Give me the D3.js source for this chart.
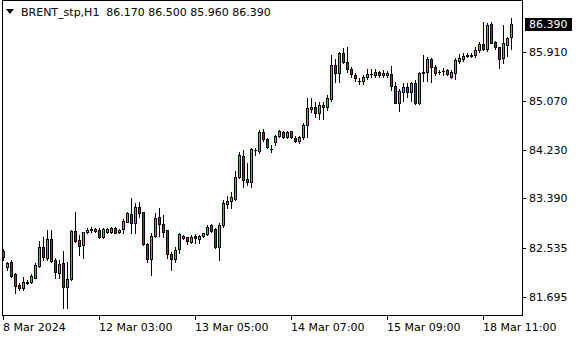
<!DOCTYPE html>
<html lang="en">
<head>
<meta charset="utf-8">
<title>BRENT_stp,H1</title>
<script src="https://cdn.jsdelivr.net/npm/d3@7"></script>
<style>
  body { margin: 0; background: #fff; }
  svg { display: block; font-family: "DejaVu Sans", sans-serif; font-size: 11px; }
</style>
</head>
<body>
<div id="chart"></div>
<script>
// H1 bars, oldest first
var symbol = "BRENT_stp,H1";
var opens = [82.49,82.21,82.30,82.09,81.90,81.85,81.94,81.95,82.02,82.23,
  82.56,82.37,82.70,82.33,82.11,82.28,81.87,82.01,82.83,82.68,
  82.59,82.81,82.85,82.83,82.85,82.73,82.81,82.81,82.89,82.81,
  82.87,82.99,83.12,82.97,83.24,83.16,82.61,82.35,82.75,83.07,
  82.95,82.85,82.44,82.35,82.52,82.71,82.73,82.64,82.75,82.70,
  82.75,82.78,82.94,82.87,82.56,82.94,83.30,83.35,83.38,83.76,
  84.12,83.73,83.67,84.23,84.21,84.53,84.41,84.24,84.36,84.47,
  84.53,84.45,84.55,84.43,84.38,84.45,84.66,84.93,84.96,84.86,
  84.96,84.96,85.10,85.69,85.55,85.89,85.74,85.62,85.51,85.41,
  85.41,85.48,85.53,85.51,85.57,85.51,85.51,85.53,85.33,85.03,
  85.22,85.31,85.22,85.38,85.03,85.55,85.57,85.79,85.65,85.57,
  85.58,85.60,85.48,85.55,85.76,85.79,85.84,85.84,85.86,85.94,
  86.05,85.96,86.39,86.08,86.00,85.81,86.03,86.17];
var highs = [82.52,82.30,82.33,82.11,81.94,82.04,81.99,82.09,82.28,82.66,
  82.73,82.85,82.85,82.37,82.33,82.49,82.30,82.85,83.16,82.76,
  82.81,82.89,82.90,82.88,82.89,82.89,82.89,82.90,82.90,82.87,
  83.04,83.16,83.40,83.31,83.33,83.16,82.63,82.80,83.14,83.23,
  83.11,82.85,82.47,82.56,82.80,82.76,82.73,82.76,82.78,82.76,
  82.80,82.94,82.95,82.89,82.97,83.37,83.43,83.50,83.86,84.19,
  84.23,84.00,84.26,84.26,84.57,84.59,84.43,84.31,84.48,84.57,
  84.55,84.55,84.55,84.47,84.47,84.69,85.12,85.12,85.05,85.05,
  85.05,85.17,85.86,85.79,85.91,85.98,86.00,85.65,85.55,85.46,
  85.51,85.62,85.62,85.62,85.58,85.60,85.58,85.67,85.39,85.27,
  85.38,85.38,85.39,85.43,85.57,85.86,85.82,85.81,85.69,85.60,
  85.64,85.62,85.60,85.81,85.88,85.89,85.89,85.89,86.00,86.08,
  86.43,86.41,86.43,86.10,86.00,86.38,86.17,86.50];
var lows = [82.33,82.16,82.04,81.77,81.82,81.82,81.92,81.94,82.02,82.21,
  82.33,82.33,82.30,82.02,82.02,81.51,81.51,81.99,82.64,82.42,
  82.37,82.80,82.81,82.81,82.71,82.71,82.80,82.80,82.80,82.80,
  82.80,82.99,82.80,82.80,83.07,82.59,82.30,82.08,82.73,82.75,
  82.73,82.37,82.16,82.30,82.45,82.70,82.61,82.63,82.63,82.63,
  82.73,82.76,82.81,82.54,82.33,82.90,83.23,83.23,83.37,83.74,
  83.59,83.62,83.59,84.14,84.17,84.38,84.26,84.19,84.31,84.45,
  84.43,84.43,84.43,84.36,84.35,84.41,84.45,84.88,84.79,84.76,
  84.76,84.91,85.07,85.39,85.39,85.72,85.57,85.48,85.41,85.36,
  85.36,85.45,85.48,85.48,85.48,85.48,85.48,85.26,85.03,84.90,
  85.07,85.14,85.07,85.02,85.02,85.41,85.41,85.39,85.51,85.53,
  85.51,85.51,85.46,85.45,85.72,85.76,85.82,85.82,85.82,85.91,
  85.94,85.93,86.07,85.96,85.64,85.72,85.84,85.96];
var closes = [82.38,82.28,82.06,81.89,81.85,81.95,81.95,82.06,82.25,82.56,
  82.38,82.70,82.32,82.13,82.26,81.87,82.01,82.83,82.66,82.57,
  82.81,82.85,82.87,82.87,82.73,82.87,82.87,82.89,82.80,82.85,
  83.00,83.14,82.97,83.24,83.14,82.61,82.35,82.75,83.06,82.95,
  82.81,82.44,82.35,82.50,82.78,82.75,82.66,82.73,82.71,82.75,
  82.80,82.90,82.83,82.56,82.94,83.31,83.35,83.42,83.76,84.14,
  83.71,83.67,84.24,84.23,84.53,84.41,84.28,84.24,84.47,84.55,
  84.45,84.53,84.45,84.38,84.45,84.66,84.95,84.96,84.86,85.00,
  85.00,85.12,85.69,85.55,85.89,85.74,85.62,85.53,85.46,85.41,
  85.48,85.53,85.53,85.57,85.51,85.55,85.55,85.33,85.03,85.24,
  85.31,85.22,85.38,85.03,85.55,85.57,85.79,85.65,85.55,85.57,
  85.58,85.53,85.57,85.77,85.81,85.84,85.86,85.86,85.94,86.05,
  85.96,86.38,86.07,86.00,85.79,86.07,86.15,86.39];
var headerValues = ["86.170", "86.500", "85.960", "86.390"];
var lastPrice = 86.390;

var xTickIdx = [0, 24, 48, 72, 96, 120];
var xTickLabels = ["8 Mar 2024", "12 Mar 03:00", "13 Mar 05:00", "14 Mar 07:00", "15 Mar 09:00", "18 Mar 11:00"];
var yTicks = [85.910, 85.070, 84.230, 83.390, 82.535, 81.695];

var width = 580, height = 340;
var frameRight = 522, frameBottom = 315;

var bars = opens.map(function(o, i) {
  return { i: i, o: o, h: highs[i], l: lows[i], c: closes[i] };
});

var svg = d3.select("#chart").append("svg")
  .attr("width", width)
  .attr("height", height);

var x = d3.scaleBand()
  .domain(d3.range(bars.length))
  .range([2, 2 + 4 * bars.length]);

var y = d3.scaleLinear()
  .domain([81.386, 86.770])
  .range([frameBottom, 2]);

function py(v) { return Math.round(y(v)) + 0.5; }

// frame
svg.append("rect")
  .attr("x", 2.5).attr("y", 0.5)
  .attr("width", frameRight - 2)
  .attr("height", frameBottom)
  .attr("fill", "none")
  .attr("stroke", "#000");

var g = svg.append("g");

// wicks
g.selectAll("line.wick")
  .data(bars)
  .enter().append("line")
  .attr("class", "wick")
  .attr("x1", function(d) { return x(d.i) + 1.5; })
  .attr("x2", function(d) { return x(d.i) + 1.5; })
  .attr("y1", function(d) { return py(Math.max(d.h, d.o, d.c)) - 0.5; })
  .attr("y2", function(d) { return py(Math.min(d.l, d.o, d.c)) + 0.5; })
  .attr("stroke", "#000");

// bodies
g.selectAll("rect.body")
  .data(bars.filter(function(d) { return py(d.o) !== py(d.c); }))
  .enter().append("rect")
  .attr("class", "body")
  .attr("x", function(d) { return x(d.i) + 0.5; })
  .attr("y", function(d) { return py(Math.max(d.o, d.c)); })
  .attr("width", 2)
  .attr("height", function(d) { return py(Math.min(d.o, d.c)) - py(Math.max(d.o, d.c)); })
  .attr("fill", function(d) { return d.c >= d.o ? "#00f000" : "#e80000"; })
  .attr("stroke", "#000");

// dojis
g.selectAll("line.doji")
  .data(bars.filter(function(d) { return py(d.o) === py(d.c); }))
  .enter().append("line")
  .attr("class", "doji")
  .attr("x1", function(d) { return x(d.i); })
  .attr("x2", function(d) { return x(d.i) + 3; })
  .attr("y1", function(d) { return py(d.c); })
  .attr("y2", function(d) { return py(d.c); })
  .attr("stroke", "#000");

// price scale
var yAxis = svg.append("g");
yAxis.selectAll("line")
  .data(yTicks)
  .enter().append("line")
  .attr("x1", frameRight).attr("x2", frameRight + 4)
  .attr("y1", py).attr("y2", py)
  .attr("stroke", "#000");
yAxis.selectAll("text")
  .data(yTicks)
  .enter().append("text")
  .attr("x", 529)
  .attr("y", function(d) { return y(d); })
  .attr("dy", "0.36em")
  .attr("fill", "#000")
  .text(function(d) { return d.toFixed(3); });

// last price label
svg.append("rect")
  .attr("x", 525).attr("y", Math.round(y(lastPrice)) - 6)
  .attr("width", 47).attr("height", 13)
  .attr("fill", "#000");
svg.append("text")
  .attr("x", 529)
  .attr("y", y(lastPrice))
  .attr("dy", "0.36em")
  .attr("fill", "#fff")
  .text(lastPrice.toFixed(3));

// time scale
var xAxis = svg.append("g");
xAxis.selectAll("line")
  .data(xTickIdx)
  .enter().append("line")
  .attr("x1", function(d) { return x(d) + 1.5; })
  .attr("x2", function(d) { return x(d) + 1.5; })
  .attr("y1", frameBottom + 1).attr("y2", frameBottom + 5)
  .attr("stroke", "#000");
xAxis.selectAll("text")
  .data(xTickIdx)
  .enter().append("text")
  .attr("x", function(d) { return x(d) + 1; })
  .attr("y", 331)
  .attr("fill", "#000")
  .text(function(d, i) { return xTickLabels[i]; });

// header
svg.append("path")
  .attr("d", "M6,9L14,9L10,14Z")
  .attr("fill", "#000");
svg.append("text")
  .attr("x", 21).attr("y", 16)
  .style("white-space", "pre")
  .attr("fill", "#000")
  .text(symbol + "  " + headerValues.join(" "));
</script>
</body>
</html>
